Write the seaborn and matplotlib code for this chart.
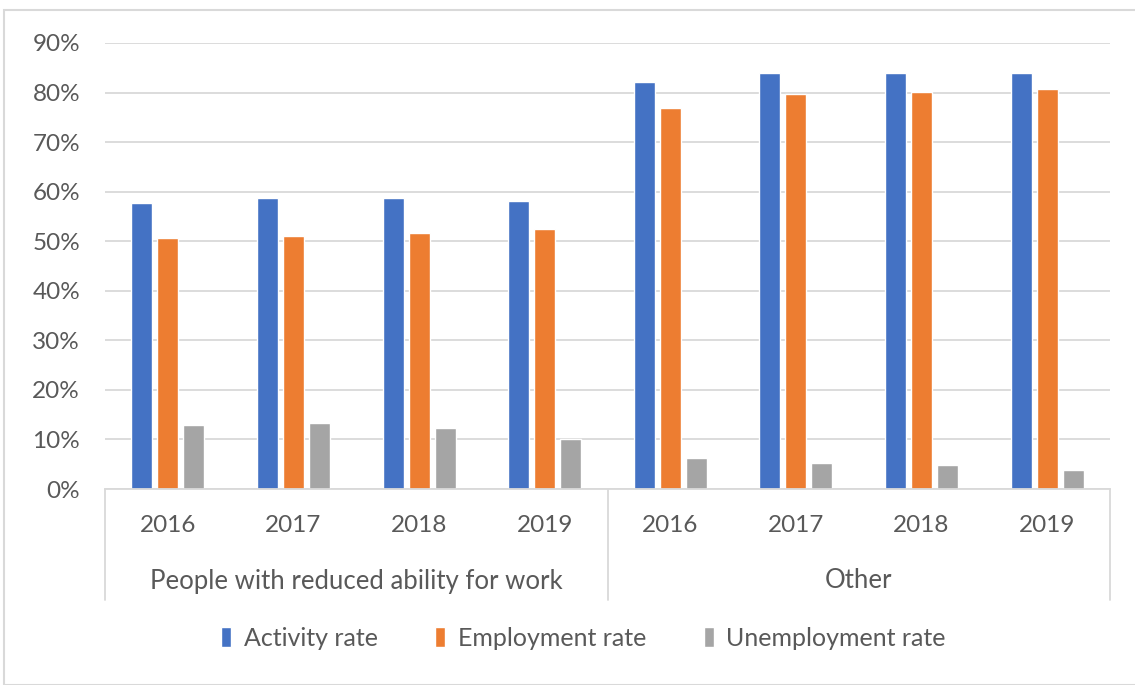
import matplotlib
matplotlib.use("Agg")
import matplotlib.pyplot as plt
import seaborn as sns
import pandas as pd
from matplotlib.patches import Rectangle
from matplotlib.ticker import PercentFormatter

groups = ["People with reduced ability for work", "Other"]
years = ["2016", "2017", "2018", "2019"]
series = ["Activity rate", "Employment rate", "Unemployment rate"]

activity = [57.8, 58.8, 58.8, 58.2, 82.2, 84.0, 84.0, 84.0]
employment = [50.6, 51.1, 51.6, 52.5, 76.9, 79.8, 80.2, 80.7]
unemployment = [12.9, 13.3, 12.4, 10.0, 6.2, 5.3, 4.8, 3.8]

colors = ["#4472C4", "#ED7D31", "#A5A5A5"]
text_color = "#595959"
grid_color = "#D9D9D9"
fs = 17.5

sns.set_theme(style="white")
plt.rcParams["font.family"] = ["Lato", "DejaVu Sans"]

keys = [f"{g}|{y}" for g in groups for y in years]
rows = []
for name, vals in zip(series, [activity, employment, unemployment]):
    for k, v in zip(keys, vals):
        rows.append({"key": k, "series": name, "value": v / 100})
df = pd.DataFrame(rows)

fig = plt.figure(figsize=(11.35, 6.85), dpi=100)
ax = fig.add_axes([105 / 1135, 1 - 489 / 685, (1110 - 105) / 1135, (489 - 43) / 685])

sns.barplot(data=df, x="key", y="value", hue="series", order=keys,
            hue_order=series, palette=colors, width=0.62, gap=0.19,
            saturation=1, ax=ax, legend=True)

ax.set_ylim(0, 0.9)
ax.set_xlim(-0.5, len(keys) - 0.5)
ax.set_yticks([i / 10 for i in range(10)])
ax.yaxis.set_major_formatter(PercentFormatter(1.0, decimals=0))
ax.yaxis.grid(True, color=grid_color, linewidth=1.3)
ax.set_axisbelow(True)
ax.tick_params(axis="y", length=0, pad=18, labelsize=fs, labelcolor=text_color)
ax.set_xlabel("")
ax.set_ylabel("")
ax.set_xticks([])

for side in ["left", "right", "top"]:
    ax.spines[side].set_visible(False)
ax.spines["bottom"].set_color(grid_color)
ax.spines["bottom"].set_linewidth(1.3)

# Two-level category axis: years, then group names, with separators
depth = -(600 - 489) / (489 - 43)
trans = ax.get_xaxis_transform()
for xpos in [-0.5, 3.5, 7.5]:
    ax.plot([xpos, xpos], [0, depth], transform=trans, color=grid_color,
            linewidth=1.3, clip_on=False)
for i, k in enumerate(keys):
    ax.text(i, -(526 - 489) / (489 - 43), k.split("|")[1], transform=trans,
            ha="center", va="center", fontsize=fs, color=text_color)
for gi, g in enumerate(groups):
    ax.text(gi * 4 + 1.5, -(581 - 489) / (489 - 43), g, transform=trans,
            ha="center", va="center", fontsize=18.5, color=text_color)

handles, labels = ax.get_legend_handles_labels()
ax.legend_.remove()
fig.legend(handles, labels, loc="center", bbox_to_anchor=(0.514, 1 - 638 / 685),
           ncol=3, frameon=False, fontsize=18, labelcolor=text_color,
           handlelength=0.4, handleheight=0.9, handletextpad=0.5,
           columnspacing=2.3)

fig.patches.append(Rectangle((4 / 1135, 0), 1.2, 1 - 10 / 685,
                             transform=fig.transFigure, fill=False,
                             edgecolor=grid_color, linewidth=1.5))

fig.savefig("out.png", dpi=100, facecolor="white")
